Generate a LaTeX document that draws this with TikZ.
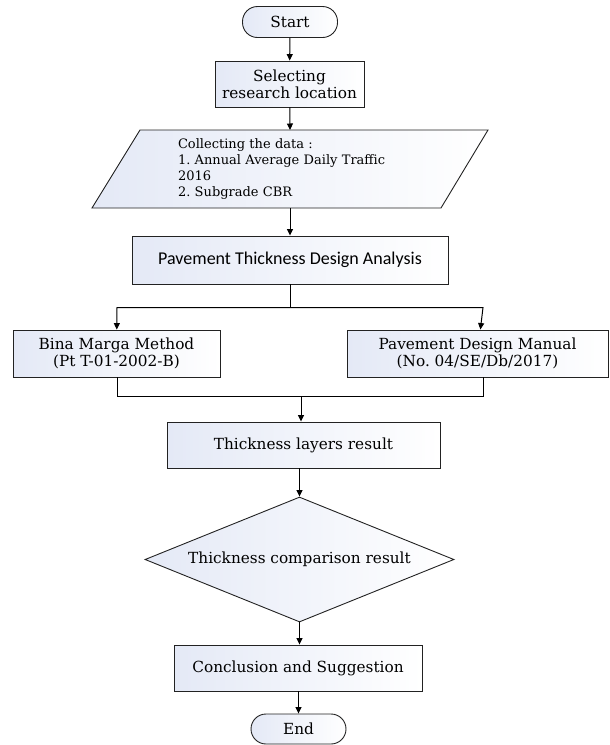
\documentclass[tikz,border=0pt]{standalone}
\usepackage{fontspec}
\setmainfont{DejaVu Serif}
\newfontfamily\boxsans{Carlito}
\usetikzlibrary{arrows.meta,shapes.geometric}
\definecolor{boxfill}{HTML}{E4E9F6}
\definecolor{edge}{HTML}{222222}
\frenchspacing
\tikzset{
  x=1pt,y=-1pt,
  base/.style={draw=edge, line width=0.9pt, left color=boxfill, right color=white, inner sep=2pt, align=center, font=\fontsize{15.3}{16.7}\selectfont},
  procbox/.style={base, rectangle},
  termbox/.style={base, rectangle, rounded corners=15pt},
  decbox/.style={base, diamond, aspect=2.47},
  conn/.style={draw=black, line width=1pt, -{Triangle[length=6.5pt,width=6pt]}},
  plain/.style={draw=black, line width=1pt},
}
\begin{document}
\begin{tikzpicture}
\useasboundingbox (0,0) rectangle (610,745);
% nodes
\node[termbox, minimum width=95pt, minimum height=31pt] (start) at (290,22) {Start};
\node[procbox, minimum width=149pt, minimum height=46pt] (sel) at (289.5,84) {Selecting\\research location};
\path[draw=edge, line width=0.9pt, left color=boxfill, right color=white] (140,130) -- (488,130) -- (441,208) -- (92,208) -- cycle;
\node[inner sep=0pt, minimum width=348pt, minimum height=78pt, text width=224pt, align=left, font=\fontsize{13}{15.7}\selectfont] (data) at (290,169) {Collecting the data :\\1. Annual Average Daily Traffic\\2016\\2. Subgrade CBR};
\node[procbox, minimum width=316pt, minimum height=48pt, font=\boxsans\fontsize{18}{18}\selectfont] (anal) at (290,260) {Pavement Thickness Design Analysis};
\coordinate (split) at (290,307.5);
\coordinate (sl) at (117,307.5);
\coordinate (sr) at (483,307.5);
\node[procbox, minimum width=207pt, minimum height=47pt] (bina) at (116.5,353.5) {Bina Marga Method\\(Pt T-01-2002-B)};
\node[procbox, minimum width=261pt, minimum height=47pt] (pdm) at (477.5,353.5) {Pavement Design Manual\\(No. 04/SE/Db/2017)};
\coordinate (ml) at (117,396);
\coordinate (mr) at (483,396);
\coordinate (merge) at (301,396);
\node[procbox, minimum width=273pt, minimum height=46pt] (thick) at (303.5,445) {Thickness layers result};
\node[decbox, minimum width=309pt, minimum height=125pt, inner sep=0pt] (comp) at (299.5,559.5) {};
\node[font=\fontsize{15.3}{16.7}\selectfont] at (comp.center) {Thickness comparison result};
\node[procbox, minimum width=248pt, minimum height=46pt] (conc) at (298,668) {Conclusion and Suggestion};
\node[termbox, minimum width=95pt, minimum height=30pt] (endn) at (298.5,729) {End};
% connectors
\draw[conn] (start) -- (sel);
\draw[conn] (sel) -- (290,130);
\draw[conn] (290,208) -- (anal);
\draw[plain] (anal) -- (split);
\draw[conn] (split) -- (sl) -- (bina);
\draw[conn] (split) -- (sr) -- (pdm);
\draw[plain] (bina.south -| ml) -- (ml) -- (mr) -- (pdm.south -| mr);
\draw[conn] (merge) -- (merge |- thick.north);
\draw[conn] (thick.south -| comp.north) -- (comp.north);
\draw[conn] (comp.south) -- (comp.south |- conc.north);
\draw[conn] (conc.south -| endn.north) -- (endn.north);
\end{tikzpicture}
\end{document}
